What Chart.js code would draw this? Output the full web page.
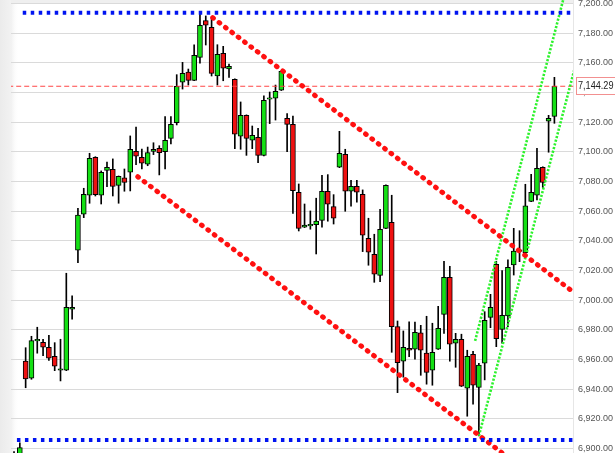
<!DOCTYPE html>
<html>
<head>
<meta charset="utf-8">
<script src="https://cdn.jsdelivr.net/npm/chart.js@4.4.1/dist/chart.umd.min.js"></script>
<style>
  html, body { margin: 0; padding: 0; background: #fff; }
  #wrap { width: 615px; height: 453px; }
</style>
</head>
<body>
<div id="wrap"><canvas id="priceChart" width="615" height="453"></canvas></div>
<script>
// --- Candle data (bar index 0 = leftmost) ---
const opens = [
  6893, 6893, 6959, 6947.4, 6972.6, 6971.7, 6968.3, 6962.2, 6952.8, 6952.8,
  6993.9, 7033.7, 7058, 7070.8, 7096.4, 7070.8, 7087.6, 7088.3, 7077.5, 7082.6,
  7086.3, 7100.4, 7096.4, 7091.7, 7100.4, 7102.5, 7100.2, 7109.2, 7119.7, 7147,
  7153.9, 7148.3, 7163.8, 7188.5, 7184, 7151.2, 7166.5, 7155.9, 7149, 7110.6,
  7124.7, 7107.9, 7109.9, 7097.7, 7135.5, 7136.2, 7141.6, 7122.7, 7118.6, 7072.8,
  7049.2, 7050.2, 7051, 7053.9, 7073.5, 7063.1, 7089.7, 7098.4, 7073.5, 7076.8,
  7071.5, 7041.8, 7031, 7016.8, 7048.5, 7052.6, 6982.2, 6958.9, 6967.6, 6967,
  6978.1, 6964.3, 6952.8, 6967, 6990.5, 7015.5, 6971, 6973.7, 6940.7, 6963.6,
  6941.3, 6957.5, 6988.5, 7024.3, 6980.4, 6989.4, 7023.8, 7033, 7032.1, 7066.7,
  7070.8, 7089.7, 7120.7, 7124
];
const highs = [
  6898, 6903.8, 6968, 6975.7, 6981.8, 6973.7, 6976.4, 6971.4, 6973.7, 7018.2,
  7002.9, 7062, 7075.5, 7099.1, 7096.8, 7087.2, 7093.2, 7095.3, 7083.8, 7088.5,
  7110.8, 7116.8, 7102, 7103.3, 7106.2, 7104.2, 7123.8, 7123.8, 7152.1, 7160.4,
  7155.9, 7172.3, 7194.2, 7191.7, 7191.2, 7172.3, 7171.2, 7159.3, 7149.3, 7133.7,
  7125, 7117.5, 7116, 7137.9, 7140.4, 7145.1, 7154.6, 7125.8, 7124.2, 7078.4,
  7064.9, 7060.2, 7068.8, 7084.3, 7084.7, 7071.2, 7113.9, 7101.8, 7080.9, 7080.9,
  7074.4, 7055.3, 7044.5, 7061.3, 7077.8, 7070.8, 6986, 6979.3, 6985.4, 6985.2,
  6983.1, 6989.2, 6984.5, 6995.9, 7026.3, 7022.9, 6977.7, 6977.1, 6966.3, 6965.6,
  6957.4, 6992.3, 7004, 7026.3, 7020, 7027.2, 7048.5, 7046.9, 7078.2, 7084.9,
  7102.5, 7090, 7124.7, 7150.3
];
const lows = [
  6880, 6888, 6941, 6946.7, 6964.3, 6962.6, 6959.5, 6952.5, 6945.6, 6952.5,
  6987.2, 7025.3, 7055.7, 7065.4, 7070.3, 7064.9, 7076.6, 7070.3, 7065.4, 7073.5,
  7073.7, 7091.4, 7088.5, 7090.7, 7098.2, 7084.5, 7088.5, 7105.4, 7118.2, 7142.4,
  7145.1, 7148, 7159.8, 7172.1, 7151.2, 7145.1, 7148, 7150.3, 7102.2, 7101.8,
  7097.7, 7102.2, 7092.8, 7097.3, 7119.1, 7121.5, 7141.4, 7100.2, 7058.6, 7046.7,
  7049, 7047.9, 7031.2, 7049.2, 7053.3, 7051.4, 7089.4, 7060, 7063.4, 7066.1,
  7032.8, 7023.6, 7012.1, 7012.5, 7048.2, 6964.9, 6937.7, 6948.1, 6962, 6960.2,
  6949.4, 6943.4, 6942.7, 6966.8, 6977.7, 6958.9, 6954.8, 6941.8, 6921.8, 6930,
  6908.5, 6946.3, 6981.5, 6968.7, 6971, 6982.2, 7017, 7026, 7031.8, 7066.5,
  7067.6, 7075.5, 7099.8, 7119.3
];
const closes = [
  6889, 6900.6, 6947, 6972.8, 6973.6, 6968.3, 6960.9, 6955.5, 6953.8, 6995.3,
  6995.3, 7057.5, 7071.5, 7095.7, 7071.2, 7086.3, 7089.7, 7076.8, 7083.6, 7079.5,
  7101.8, 7097.1, 7092.4, 7099.5, 7101.8, 7099.5, 7107.9, 7118.6, 7144.3, 7153,
  7148.3, 7165.2, 7185.4, 7185.4, 7153, 7165.8, 7156.4, 7157.8, 7111.9, 7124.7,
  7109.2, 7111.2, 7097.7, 7134.8, 7136.5, 7140.9, 7154.4, 7118.6, 7073.9, 7048.5,
  7050.6, 7051.2, 7053.3, 7073.5, 7064.7, 7055.3, 7099.1, 7073.5, 7076.8, 7072.8,
  7043.8, 7032.4, 7017.5, 7047.9, 7077.5, 6982.2, 6957.9, 6968.3, 6966.3, 6978.4,
  6966.3, 6951.4, 6964.9, 6981.1, 7015.5, 6970.3, 6973.7, 6942, 6962.2, 6942.7,
  6956.2, 6986.5, 6995.3, 6974.1, 6989.9, 7022.2, 7033.2, 7034, 7063.6, 7072.8,
  7089, 7079.5, 7122.7, 7144.29
];

// price axis tick labels
const priceTicks = [6900, 6920, 6940, 6960, 6980, 7000, 7020, 7040, 7060, 7080,
                    7100, 7120, 7140, 7160, 7180, 7200];

// --- Drawn levels / trend lines, as [bar index, price] ---
const resistanceLevel = [[1.5, 7193.8], [97, 7193.8]];
const supportLevel = [[0.5, 6905.8], [97, 6905.8]];
const channelUpper = [[34.2, 7190.5], [96.4, 7005.1]];
const channelLower = [[21.3, 7083.3], [84.5, 6895.6]];
const riseUpper = [[79.35, 6972.6], [95, 7210]];
const riseLower = [[80, 6908.5], [96.4, 7155]];

const UP = '#14e014';
const DOWN = '#ee1111';

function fmt(v) {
    return v.toLocaleString('en-US', { minimumFractionDigits: 2, maximumFractionDigits: 2 });
}

function toPoints(pairs) {
    return pairs.map(p => ({ x: p[0], y: p[1] }));
}

function trendLine(pairs, color, width, dash, cap) {
    return {
        type: 'line',
        data: toPoints(pairs),
        borderColor: color,
        borderWidth: width,
        borderDash: dash,
        borderCapStyle: cap,
        pointRadius: 0,
        fill: false,
        tension: 0,
        order: 0
    };
}

// --- Background: grey edge strips ---
const chartFrame = {
    id: 'chartFrame',
    beforeDraw(chart) {
        const { ctx, chartArea: a, width, height } = chart;
        ctx.save();
        ctx.fillStyle = '#ffffff';
        ctx.fillRect(0, 0, width, height);
        const g = ctx.createLinearGradient(0, 0, a.left + 8, 0);
        g.addColorStop(0, '#ebebeb');
        g.addColorStop(0.6, '#f2f2f2');
        g.addColorStop(1, 'rgba(255,255,255,0)');
        ctx.fillStyle = g;
        ctx.fillRect(0, 0, a.left + 8, height);
        ctx.fillStyle = '#efefef';
        ctx.fillRect(a.left, 0, a.right - a.left, 3);
        ctx.restore();
    }
};

// --- Last price tag on the axis ---
const lastPriceTag = {
    id: 'lastPriceTag',
    afterDraw(chart) {
        const { ctx, chartArea: a, scales } = chart;
        const last = closes[closes.length - 1];
        const py = Math.round(scales.y.getPixelForValue(last));
        const x0 = Math.round(a.right) + 3.5;
        ctx.save();
        ctx.fillStyle = '#ffffff';
        ctx.fillRect(x0, py - 8.5, chart.width - x0 + 2, 17);
        ctx.strokeStyle = '#f29090';
        ctx.lineWidth = 1;
        ctx.strokeRect(x0, py - 8.5, chart.width - x0 + 2, 17);
        ctx.fillStyle = '#222';
        ctx.font = '10px "Liberation Sans", Arial, sans-serif';
        ctx.textBaseline = 'middle';
        ctx.fillText(fmt(last), x0 + 1.5, py + 0.5, chart.width - x0 - 3);
        ctx.restore();
    }
};

const bodies = opens.map((o, i) => ({ x: i, y: [o, closes[i]] }));
const wicks = lows.map((l, i) => ({ x: i, y: [l, highs[i]] }));
const bodyColors = opens.map((o, i) => closes[i] >= o ? UP : DOWN);
const lastClose = closes[closes.length - 1];

new Chart(document.getElementById('priceChart'), {
    type: 'bar',
    data: {
        datasets: [
            {
                data: bodies,
                backgroundColor: bodyColors,
                borderColor: '#000',
                borderWidth: 1,
                borderSkipped: false,
                barThickness: 5,
                grouped: false,
                order: 1
            },
            {
                data: wicks,
                backgroundColor: '#000',
                borderWidth: 0,
                barThickness: 1,
                grouped: false,
                order: 2
            },
            trendLine(resistanceLevel, '#0014f0', 4, [3.5, 4.5], 'butt'),
            trendLine(supportLevel, '#0014f0', 4, [3.5, 4.5], 'butt'),
            trendLine(channelUpper, '#ff1010', 5, [0.8, 7.2], 'round'),
            trendLine(channelLower, '#ff1010', 5, [0.8, 7.2], 'round'),
            trendLine(riseUpper, '#2cf22c', 2.6, [2.2, 1.6], 'butt'),
            trendLine(riseLower, '#2cf22c', 2.6, [2.2, 1.6], 'butt'),
            Object.assign(trendLine([[-1, lastClose], [97, lastClose]], '#ff4646', 1, [5, 3], 'butt'),
                { clip: { left: 0, right: 4, top: 0, bottom: 0 } })
        ]
    },
    options: {
        responsive: false,
        devicePixelRatio: 1,
        animation: false,
        events: [],
        layout: { padding: { left: 11, top: 0, right: 0, bottom: 0 } },
        plugins: { legend: { display: false }, tooltip: { enabled: false } },
        scales: {
            x: {
                type: 'linear',
                display: false,
                offset: false,
                min: -0.52,
                max: 96.2,
                grid: { display: false }
            },
            y: {
                position: 'right',
                min: 6897,
                max: 7202.45,
                afterBuildTicks: s => { s.ticks = priceTicks.map(v => ({ value: v })); },
                afterFit: s => { s.width = 42; s.paddingTop = 0; s.paddingBottom = 0; },
                grid: { color: '#dadada', drawTicks: false, lineWidth: 1 },
                border: { display: true, color: '#e6e6e6' },
                ticks: {
                    padding: 5,
                    color: '#555',
                    font: { family: '"Liberation Sans", Arial, sans-serif', size: 9 },
                    callback: v => fmt(v)
                }
            }
        }
    },
    plugins: [chartFrame, lastPriceTag]
});
</script>
</body>
</html>
